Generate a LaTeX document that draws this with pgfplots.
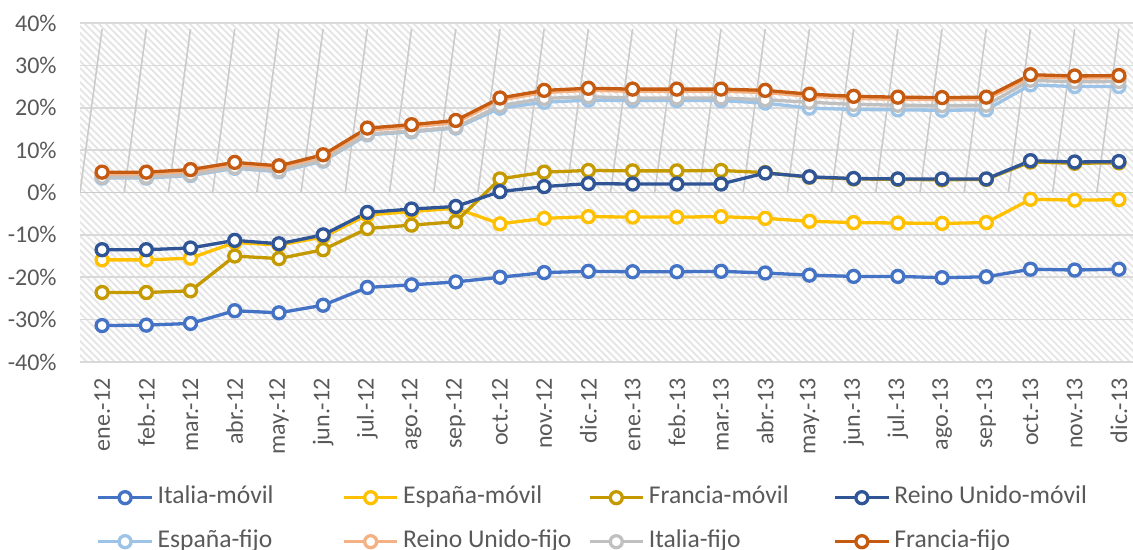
\documentclass[border=0pt]{standalone}
\usepackage{pgfplots}
\pgfplotsset{compat=1.18}
\usepackage{fontspec}
\setmainfont{Carlito}
\definecolor{italiam}{HTML}{4472C4}
\definecolor{espanam}{HTML}{FFC000}
\definecolor{franciam}{HTML}{C49A00}
\definecolor{reinom}{HTML}{2F5597}
\definecolor{espanaf}{HTML}{9DC3E6}
\definecolor{reinof}{HTML}{F4B183}
\definecolor{italiaf}{HTML}{C0C0C0}
\definecolor{franciaf}{HTML}{C55A11}
\definecolor{tickc}{HTML}{595959}
\definecolor{gridc}{HTML}{D9D9D9}
\definecolor{hatchc}{HTML}{E6E6E6}
\begin{document}
\begin{tikzpicture}
\begin{scope}
\clip (40pt,94pt) rectangle (570.5pt,263.5pt);
\foreach \i in {0,...,200} {\draw[hatchc, line width=0.9pt] ({40pt+\i*3.5pt},94pt) -- ++(-169.5pt,169.5pt);}
\end{scope}
\begin{axis}[
  at={(40pt,94pt)}, anchor=south west,
  scale only axis, width=530.5pt, height=169.5pt,
  xmin=-0.5, xmax=23.5, ymin=-40, ymax=40,
  xtick={0,...,23},
  xticklabels={ene.-12,feb.-12,mar.-12,abr.-12,may.-12,jun.-12,jul.-12,ago.-12,sep.-12,oct.-12,nov.-12,dic.-12,ene.-13,feb.-13,mar.-13,abr.-13,may.-13,jun.-13,jul.-13,ago.-13,sep.-13,oct.-13,nov.-13,dic.-13},
  ytick={-40,-30,...,40},
  yticklabels={-40\%,-30\%,-20\%,-10\%,0\%,10\%,20\%,30\%,40\%},
  axis line style={draw=none},
  major tick length=0pt, tick style={draw=none},
  xmajorgrids=false, ymajorgrids, grid style={draw=gridc, line width=0.8pt},
  xticklabel style={rotate=90, anchor=east, inner sep=0pt, font=\fontsize{12}{14}\selectfont, text=tickc},
  xticklabel shift=8pt,
  yticklabel style={anchor=east, inner sep=0pt, font=\fontsize{12}{14}\selectfont, text=tickc},
  yticklabel shift=11.5pt,
  legend columns=4,
  legend style={at={(axis description cs:0.0154,-0.4652)}, anchor=west, draw=none, fill=none, inner sep=0pt,
    font=\fontsize{12.8}{14}\selectfont, text=tickc,
    nodes={inner sep=0pt, text height=9pt, text depth=3pt},
    /tikz/every odd column/.append style={column sep=2.1pt},
    /tikz/every even column/.append style={column sep=0pt},
    row sep=10pt},
  legend image code/.code={\draw[mark repeat=2,mark phase=2,#1] plot coordinates {(0pt,0pt) (13.35pt,0pt) (26.7pt,0pt)};},
  every axis plot/.append style={line width=1.65pt, mark=*, mark size=3pt, mark options={fill=white, solid}},
]
\draw[gridc!85!gray, line width=0.8pt] (axis cs:-0.5,0) -- (axis cs:23.5,0);
\pgfplotsinvokeforeach{-0.5,0.5,...,23.5}{\draw[gridc!85!gray, line width=0.8pt] (axis cs:#1,0) -- ++(0,-3pt);}
\addplot[color=italiam] coordinates {(0,-31.4)(1,-31.3)(2,-30.9)(3,-27.9)(4,-28.4)(5,-26.6)(6,-22.4)(7,-21.8)(8,-21.1)(9,-20.0)(10,-18.9)(11,-18.6)(12,-18.7)(13,-18.7)(14,-18.6)(15,-19.0)(16,-19.5)(17,-19.8)(18,-19.8)(19,-20.1)(20,-19.9)(21,-18.1)(22,-18.3)(23,-18.1)};
\addlegendentry{\makebox[92.35pt][l]{Italia-móvil}}
\addplot[color=espanam] coordinates {(0,-15.9)(1,-15.9)(2,-15.5)(3,-11.8)(4,-12.4)(5,-10.5)(6,-5.3)(7,-4.5)(8,-3.7)(9,-7.4)(10,-6.1)(11,-5.7)(12,-5.8)(13,-5.8)(14,-5.7)(15,-6.1)(16,-6.8)(17,-7.1)(18,-7.2)(19,-7.3)(20,-7.1)(21,-1.6)(22,-1.8)(23,-1.7)};
\addlegendentry{\makebox[92.35pt][l]{España-móvil}}
\addplot[color=franciam] coordinates {(0,-23.6)(1,-23.6)(2,-23.2)(3,-15.0)(4,-15.6)(5,-13.5)(6,-8.5)(7,-7.7)(8,-6.9)(9,3.2)(10,4.8)(11,5.2)(12,5.1)(13,5.1)(14,5.2)(15,4.7)(16,3.6)(17,3.2)(18,3.1)(19,3.0)(20,3.1)(21,7.2)(22,6.9)(23,7.0)};
\addlegendentry{\makebox[92.35pt][l]{Francia-móvil}}
\addplot[color=reinom] coordinates {(0,-13.5)(1,-13.5)(2,-13.1)(3,-11.3)(4,-12.1)(5,-10.0)(6,-4.7)(7,-3.9)(8,-3.3)(9,0.2)(10,1.4)(11,2.1)(12,2.0)(13,2.0)(14,2.0)(15,4.6)(16,3.7)(17,3.3)(18,3.2)(19,3.2)(20,3.2)(21,7.5)(22,7.2)(23,7.3)};
\addlegendentry{\makebox[92.35pt][l]{Reino Unido-móvil}}
\addplot[color=espanaf] coordinates {(0,3.4)(1,3.4)(2,4.0)(3,5.7)(4,4.9)(5,7.4)(6,13.6)(7,14.3)(8,15.2)(9,19.9)(10,21.3)(11,21.8)(12,21.7)(13,21.7)(14,21.7)(15,21.1)(16,19.9)(17,19.6)(18,19.5)(19,19.4)(20,19.5)(21,25.4)(22,25.0)(23,25.0)};
\addlegendentry{\makebox[92.35pt][l]{España-fijo}}
\addplot[color=reinof] coordinates {(0,4.3)(1,4.3)(2,4.9)(3,6.6)(4,5.8)(5,8.4)(6,14.7)(7,15.5)(8,16.5)(9,21.8)(10,23.6)(11,24.1)(12,23.9)(13,23.9)(14,23.9)(15,23.6)(16,22.7)(17,22.2)(18,22.0)(19,21.9)(20,22.0)(21,27.3)(22,27.0)(23,27.1)};
\addlegendentry{\makebox[92.35pt][l]{Reino Unido-fijo}}
\addplot[color=italiaf] coordinates {(0,3.6)(1,3.6)(2,4.2)(3,5.9)(4,5.1)(5,7.6)(6,13.8)(7,14.5)(8,15.4)(9,20.5)(10,22.2)(11,22.6)(12,22.3)(13,22.3)(14,22.3)(15,21.9)(16,21.3)(17,20.8)(18,20.6)(19,20.5)(20,20.6)(21,26.5)(22,26.1)(23,26.2)};
\addlegendentry{\makebox[92.35pt][l]{Italia-fijo}}
\addplot[color=franciaf] coordinates {(0,4.8)(1,4.8)(2,5.4)(3,7.1)(4,6.3)(5,8.9)(6,15.2)(7,16.0)(8,17.0)(9,22.3)(10,24.1)(11,24.6)(12,24.4)(13,24.4)(14,24.4)(15,24.1)(16,23.2)(17,22.7)(18,22.5)(19,22.4)(20,22.5)(21,27.8)(22,27.5)(23,27.6)};
\addlegendentry{\makebox[92.35pt][l]{Francia-fijo}}
\end{axis}
\pgfresetboundingbox
\useasboundingbox (0,0) rectangle (566.5pt,275pt);
\end{tikzpicture}
\end{document}
